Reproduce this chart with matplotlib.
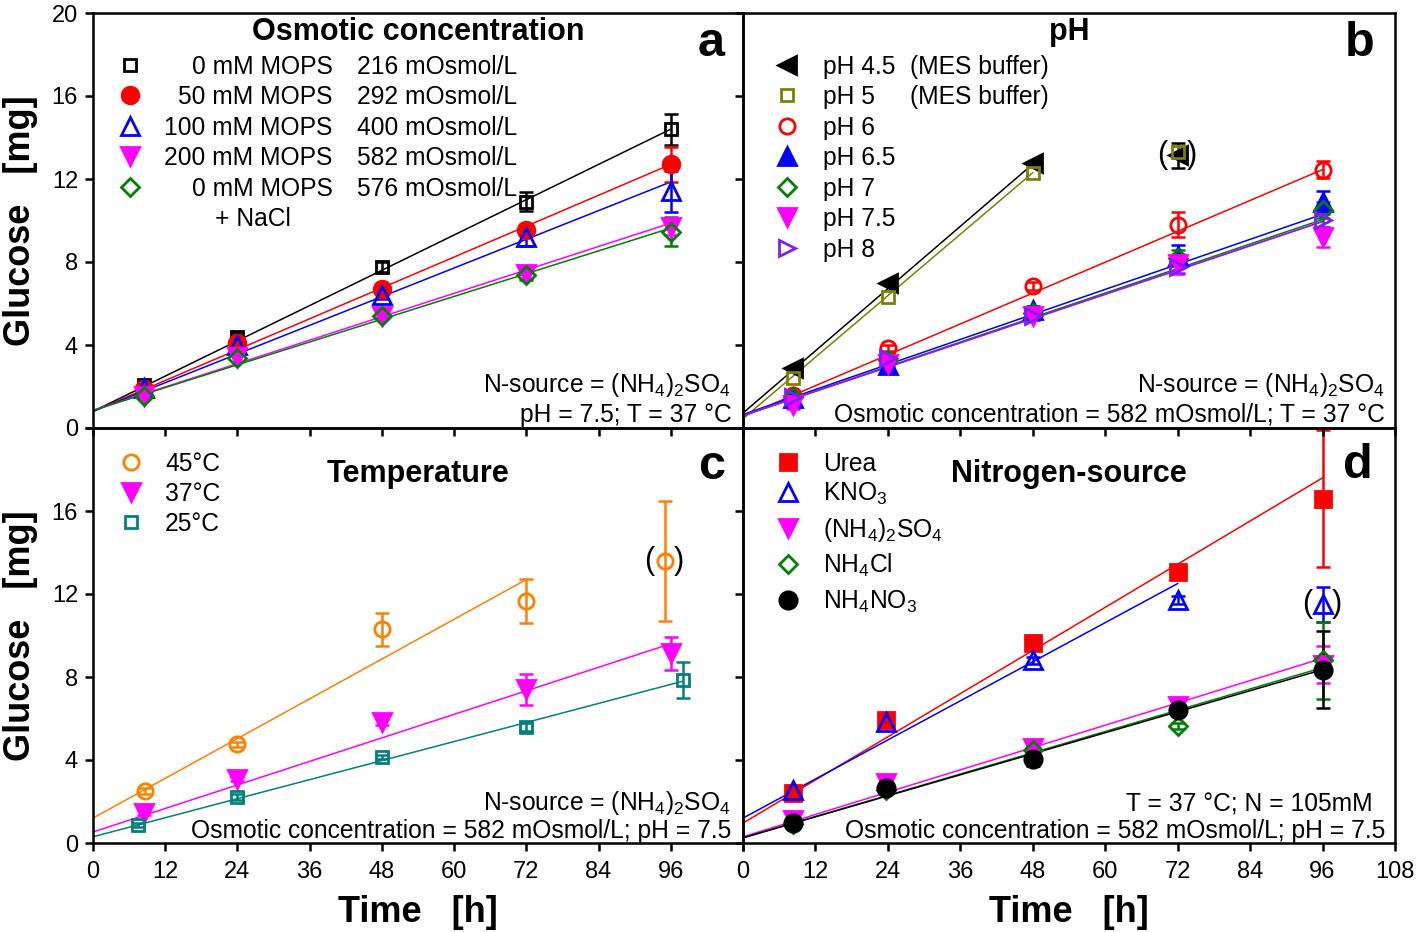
import numpy as np
import matplotlib
matplotlib.use("Agg")
import matplotlib.pyplot as plt

plt.rcParams['font.family'] = ['Liberation Sans', 'DejaVu Sans']
plt.rcParams['mathtext.fontset'] = 'custom'
plt.rcParams['mathtext.rm'] = 'Liberation Sans'
plt.rcParams['mathtext.it'] = 'Liberation Sans:italic'
plt.rcParams['mathtext.bf'] = 'Liberation Sans:bold'

# ------------------------------------------------------------------ data
x_ticks = [0, 12, 24, 36, 48, 60, 72, 84, 96, 108]
y_ticks = [0, 4, 8, 12, 16, 20]

# (a) osmotic concentration
osm_time = [8.5, 24, 48, 72, 96]
osm_labels = ['0 mM MOPS', '50 mM MOPS', '100 mM MOPS', '200 mM MOPS', '0 mM MOPS']
osm_osmol = ['216 mOsmol/L', '292 mOsmol/L', '400 mOsmol/L', '582 mOsmol/L', '576 mOsmol/L']
osm_glucose = [[2.05, 4.4, 7.75, 10.9, 14.4],
               [1.9, 4.1, 6.7, 9.55, 12.7],
               [1.95, 4.0, 6.4, 9.2, 11.4],
               [1.55, 3.4, 5.4, 7.4, 9.7],
               [1.55, 3.35, 5.4, 7.35, 9.45]]
osm_err = [[0, 0.2, 0.25, 0.45, 0.75],
           [0, 0, 0.2, 0.3, 0.85],
           [0, 0, 0.2, 0.45, 1.0],
           [0, 0, 0.1, 0.2, 0.4],
           [0, 0, 0.1, 0.2, 0.7]]
osm_fit_icpt = [0.8, 0.8, 0.8, 0.85, 0.85]
osm_fit_slope = [0.1417, 0.124, 0.1152, 0.0940, 0.0915]
osm_fit_end = [96, 96, 96, 96, 96]

# (b) pH
ph_time = [8.3, 24, 48, 72, 96]
ph_labels = ['pH 4.5', 'pH 5', 'pH 6', 'pH 6.5', 'pH 7', 'pH 7.5', 'pH 8']
ph_buffer = ['(MES buffer)', '(MES buffer)', '', '', '', '', '']
ph_glucose = [[2.9, 7.0, 12.75, 13.15, np.nan],
              [2.4, 6.3, 12.3, 13.3, np.nan],
              [1.6, 3.85, 6.85, 9.8, 12.45],
              [1.45, 3.05, 5.7, 8.3, 10.9],
              [1.5, 3.3, 5.55, 8.2, 10.5],
              [1.1, 3.1, 5.4, 7.9, 9.2],
              [1.5, 3.35, 5.4, 7.75, 10.0]]
ph_err = [[0, 0, 0, 0.6, 0],
          [0, 0, 0, 0.3, 0],
          [0, 0.15, 0.2, 0.6, 0.4],
          [0.1, 0.1, 0.2, 0.5, 0.5],
          [0.1, 0.1, 0.2, 0.4, 0.4],
          [0.2, 0.1, 0.2, 0.5, 0.5],
          [0.1, 0.1, 0.2, 0.3, 0.3]]
ph_fit_icpt = [0.72, 0.45, 0.55, 0.65, 0.6, 0.6, 0.6]
ph_fit_slope = [0.2500, 0.2469, 0.124, 0.1005, 0.0984, 0.0974, 0.0974]
ph_fit_end = [48, 48, 96, 96, 96, 96, 96]
ph_excluded = [(0, 3)]          # (series, index) shown in parentheses

# (c) temperature
temp_labels = ['45°C', '37°C', '25°C']
temp_time = [[8.6, 24, 48, 72, 95],
             [8.5, 24, 48, 72, 96],
             [7.5, 24, 48, 72, 98]]
temp_glucose = [[2.5, 4.75, 10.3, 11.65, 13.6],
                [1.45, 3.1, 5.85, 7.4, 9.15],
                [0.87, 2.2, 4.15, 5.6, 7.85]]
temp_err = [[0.15, 0.1, 0.8, 1.05, 2.9],
            [0.1, 0.1, 0.15, 0.75, 0.8],
            [0.1, 0.15, 0.1, 0.2, 0.87]]
temp_fit_icpt = [1.2, 0.53, 0.3]
temp_fit_slope = [0.1597, 0.0945, 0.0765]
temp_fit_end = [72, 96, 98]
temp_excluded = [(0, 4)]

# (d) nitrogen source
n_time = [8.3, 23.7, 48, 72, 96]
n_labels = ['Urea', 'KNO$\\mathregular{_3}$', '(NH$\\mathregular{_4}$)$\\mathregular{_2}$SO$\\mathregular{_4}$',
            'NH$\\mathregular{_4}$Cl', 'NH$\\mathregular{_4}$NO$\\mathregular{_3}$']
n_glucose = [[2.4, 5.93, 9.65, 13.06, 16.6],
             [2.55, 5.85, 8.8, 11.7, 11.5],
             [1.1, 2.9, 4.6, 6.6, 8.6],
             [0.9, 2.55, 4.5, 5.65, 8.8],
             [0.95, 2.65, 4.05, 6.4, 8.35]]
n_err = [[0.1, 0.15, 0.15, 0.2, 3.3],
         [0.1, 0.2, 0.15, 0.2, 0.85],
         [0.1, 0.2, 0.1, 0.3, 0.9],
         [0.1, 0.1, 0.1, 0.15, 1.85],
         [0.1, 0.1, 0.35, 0.2, 1.85]]
n_fit_icpt = [0.96, 1.2, 0.3, 0.25, 0.25]
n_fit_slope = [0.1733, 0.157, 0.0896, 0.0854, 0.0844]
n_fit_end = [96, 72, 96, 96, 96]
n_excluded = [(1, 4)]

# ------------------------------------------------------------------ styles
osm_style = [('s', 'black', False, 9), ('o', 'red', True, 12), ('^', 'blue', False, 12.5),
             ('v', 'magenta', True, 13), ('D', 'green', False, 9.5)]
ph_style = [('<', 'black', True, 13), ('s', '#808000', False, 9), ('o', 'red', False, 11),
            ('^', 'blue', True, 13), ('D', 'green', False, 9.5), ('v', 'magenta', True, 13),
            ('>', '#8020f0', False, 12)]
temp_style = [('o', '#ff8000', False, 11), ('v', 'magenta', True, 13), ('s', '#008080', False, 9)]
n_style = [('s', 'red', True, 11.5), ('^', 'blue', False, 12.5), ('v', 'magenta', True, 13),
           ('D', 'green', False, 9.5), ('o', 'black', True, 12.5)]

FS = 17.7
TFS = 17
MEW = 2.0
LW_ERR = 1.8

fig = plt.figure(figsize=(14.18, 9.32), dpi=100)
fig.patch.set_facecolor('white')
L, M, R = 93 / 1418, 743 / 1418, 1395 / 1418
T, C, B = 1 - 13 / 932, 1 - 428 / 932, 1 - 843 / 932
ax_c = fig.add_axes([L, B, M - L, C - B])
ax_d = fig.add_axes([M, B, R - M, C - B])
ax_a = fig.add_axes([L, C, M - L, T - C])
ax_b = fig.add_axes([M, C, R - M, T - C])


def setup(ax, xlab, ylab, ylab_top=True, xlab_last=True):
    ax.set_facecolor('none')
    ax.set_xlim(0, 108)
    ax.set_ylim(0, 20)
    ax.set_xticks(x_ticks)
    ax.set_yticks(y_ticks)
    ax.tick_params(direction='out', length=5.8, width=1.8, labelsize=TFS, pad=5,
                   top=False, right=False)
    ax.tick_params(axis='x', pad=7)
    if xlab:
        lbl = [str(t) for t in x_ticks]
        if not xlab_last:
            lbl[-1] = ''
        ax.set_xticklabels(lbl)
    else:
        ax.tick_params(labelbottom=False)
    if ylab:
        lbl = [str(t) for t in y_ticks]
        if not ylab_top:
            lbl[-1] = ''
        ax.set_yticklabels(lbl)
    else:
        ax.tick_params(labelleft=False)
    for s in ax.spines.values():
        s.set_linewidth(1.8)


setup(ax_a, False, True)
setup(ax_b, False, False)
setup(ax_c, True, True, ylab_top=False, xlab_last=False)
setup(ax_d, True, False)


def draw_series(ax, xs, ys, es, style, icpt, slope, xend):
    marker, color, filled, ms = style
    xs = np.asarray(xs, float)
    ys = np.asarray(ys, float)
    es = np.asarray(es, float)
    xf = np.array([0.0, xend])
    ax.plot(xf, icpt + slope * xf, color=color, lw=1.1, zorder=2)
    m = (es > 0) & ~np.isnan(ys)
    if m.any():
        ax.errorbar(xs[m], ys[m], yerr=es[m], fmt='none', ecolor=color,
                    elinewidth=LW_ERR, capsize=5, capthick=LW_ERR, zorder=3)
    ax.plot(xs, ys, linestyle='none', marker=marker, ms=ms, mew=MEW,
            mec=color, mfc=color if filled else 'none', zorder=4)


def legend_marker(ax, x, y, style):
    marker, color, filled, ms = style
    ax.plot([x], [y], transform=ax.transAxes, linestyle='none', marker=marker, ms=ms,
            mew=MEW, mec=color, mfc=color if filled else 'none', clip_on=False)


def parens(ax, x, y):
    ax.annotate('(', (x, y), xytext=(-11, 0), textcoords='offset points',
                ha='center', va='center', fontsize=22)
    ax.annotate(')', (x, y), xytext=(10, 0), textcoords='offset points',
                ha='center', va='center', fontsize=22)


BL = 0.021  # offset centre -> baseline in axes fraction

# ---------------- panel a
for i in range(len(osm_labels)):
    draw_series(ax_a, osm_time, osm_glucose[i], osm_err[i], osm_style[i],
                osm_fit_icpt[i], osm_fit_slope[i], osm_fit_end[i])
rows_a = [0.875, 0.802, 0.728, 0.655, 0.581]
for i, ry in enumerate(rows_a):
    legend_marker(ax_a, 0.057, ry, osm_style[i])
    ax_a.text(0.369, ry - BL, osm_labels[i], transform=ax_a.transAxes, ha='right',
              va='baseline', fontsize=FS)
    ax_a.text(0.406, ry - BL, osm_osmol[i], transform=ax_a.transAxes, ha='left',
              va='baseline', fontsize=FS)
ax_a.text(0.188, 0.508 - BL, '+ NaCl', transform=ax_a.transAxes, ha='left',
          va='baseline', fontsize=FS)
ax_a.text(0.5, 0.935, 'Osmotic concentration', transform=ax_a.transAxes, ha='center',
          va='baseline', fontsize=22, fontweight='bold')
ax_a.text(0.972, 0.896, 'a', transform=ax_a.transAxes, ha='right', va='baseline',
          fontsize=35, fontweight='bold')
ax_a.text(0.982, 0.087, 'N-source = (NH$\\mathregular{_4}$)$\\mathregular{_2}$SO$\\mathregular{_4}$',
          transform=ax_a.transAxes, ha='right', va='baseline', fontsize=FS)
ax_a.text(0.982, 0.0145, 'pH = 7.5; T = 37 °C', transform=ax_a.transAxes, ha='right',
          va='baseline', fontsize=FS)

# ---------------- panel b
for i in range(len(ph_labels)):
    draw_series(ax_b, ph_time, ph_glucose[i], ph_err[i], ph_style[i],
                ph_fit_icpt[i], ph_fit_slope[i], ph_fit_end[i])
for (si, pi) in ph_excluded:
    parens(ax_b, ph_time[pi], ph_glucose[si][pi])
rows_b = [0.875, 0.802, 0.728, 0.655, 0.581, 0.508, 0.434]
for i, ry in enumerate(rows_b):
    legend_marker(ax_b, 0.0675, ry, ph_style[i])
    ax_b.text(0.123, ry - BL, ph_labels[i], transform=ax_b.transAxes, ha='left',
              va='baseline', fontsize=FS)
    if ph_buffer[i]:
        ax_b.text(0.256, ry - BL, ph_buffer[i], transform=ax_b.transAxes, ha='left',
                  va='baseline', fontsize=FS)
ax_b.text(0.5, 0.935, 'pH', transform=ax_b.transAxes, ha='center', va='baseline',
          fontsize=22, fontweight='bold')
ax_b.text(0.969, 0.896, 'b', transform=ax_b.transAxes, ha='right', va='baseline',
          fontsize=35, fontweight='bold')
ax_b.text(0.985, 0.087, 'N-source = (NH$\\mathregular{_4}$)$\\mathregular{_2}$SO$\\mathregular{_4}$',
          transform=ax_b.transAxes, ha='right', va='baseline', fontsize=FS)
ax_b.text(0.985, 0.0145, 'Osmotic concentration = 582 mOsmol/L; T = 37 °C',
          transform=ax_b.transAxes, ha='right', va='baseline', fontsize=FS)

# ---------------- panel c
for i in range(len(temp_labels)):
    draw_series(ax_c, temp_time[i], temp_glucose[i], temp_err[i], temp_style[i],
                temp_fit_icpt[i], temp_fit_slope[i], temp_fit_end[i])
for (si, pi) in temp_excluded:
    parens(ax_c, temp_time[si][pi], temp_glucose[si][pi])
rows_c = [0.918, 0.846, 0.773]
for i, ry in enumerate(rows_c):
    legend_marker(ax_c, 0.058, ry, temp_style[i])
    ax_c.text(0.111, ry - BL, temp_labels[i], transform=ax_c.transAxes, ha='left',
              va='baseline', fontsize=FS)
ax_c.text(0.5, 0.87, 'Temperature', transform=ax_c.transAxes, ha='center', va='baseline',
          fontsize=22, fontweight='bold')
ax_c.text(0.972, 0.877, 'c', transform=ax_c.transAxes, ha='right', va='baseline',
          fontsize=35, fontweight='bold')
ax_c.text(0.982, 0.08, 'N-source = (NH$\\mathregular{_4}$)$\\mathregular{_2}$SO$\\mathregular{_4}$',
          transform=ax_c.transAxes, ha='right', va='baseline', fontsize=FS)
ax_c.text(0.982, 0.012, 'Osmotic concentration = 582 mOsmol/L; pH = 7.5',
          transform=ax_c.transAxes, ha='right', va='baseline', fontsize=FS)

# ---------------- panel d
for i in range(len(n_labels)):
    draw_series(ax_d, n_time, n_glucose[i], n_err[i], n_style[i],
                n_fit_icpt[i], n_fit_slope[i], n_fit_end[i])
for (si, pi) in n_excluded:
    parens(ax_d, n_time[pi], n_glucose[si][pi])
rows_d = [0.918, 0.846, 0.759, 0.672, 0.586]
for i, ry in enumerate(rows_d):
    legend_marker(ax_d, 0.069, ry, n_style[i])
    ax_d.text(0.123, ry - BL, n_labels[i], transform=ax_d.transAxes, ha='left',
              va='baseline', fontsize=FS)
ax_d.text(0.5, 0.87, 'Nitrogen-source', transform=ax_d.transAxes, ha='center',
          va='baseline', fontsize=22, fontweight='bold')
ax_d.text(0.966, 0.88, 'd', transform=ax_d.transAxes, ha='right', va='baseline',
          fontsize=35, fontweight='bold')
ax_d.text(0.966, 0.077, 'T = 37 °C; N = 105mM', transform=ax_d.transAxes, ha='right',
          va='baseline', fontsize=FS)
ax_d.text(0.985, 0.012, 'Osmotic concentration = 582 mOsmol/L; pH = 7.5',
          transform=ax_d.transAxes, ha='right', va='baseline', fontsize=FS)

# ---------------- axis labels
for ax in (ax_a, ax_c):
    ax.set_ylabel('Glucose   [mg]', fontsize=26, fontweight='bold')
    ax.yaxis.set_label_coords(-0.085, 0.5)
for ax in (ax_c, ax_d):
    ax.set_xlabel('Time   [h]', fontsize=26, fontweight='bold')
    ax.xaxis.set_label_coords(0.5, -0.125)

fig.savefig('out.png', dpi=100, facecolor='white')
